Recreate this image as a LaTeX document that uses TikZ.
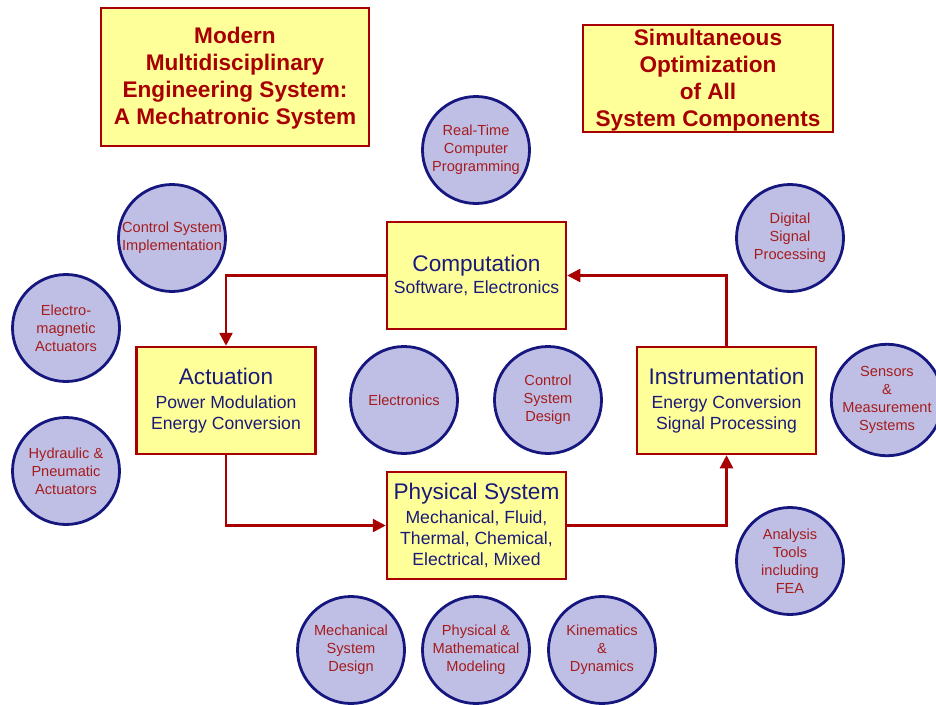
\documentclass[tikz,border=0pt]{standalone}
\usepackage{fontspec}
\setmainfont{Liberation Sans}
\usetikzlibrary{arrows.meta}
\definecolor{boxfill}{HTML}{FFFF99}
\definecolor{boxline}{HTML}{A80000}
\definecolor{circfill}{HTML}{BFBFE6}
\definecolor{circline}{HTML}{16167F}
\definecolor{circtext}{HTML}{A51C1C}
\definecolor{boxtext}{HTML}{1A1A7A}
\tikzset{
  titlebox/.style={draw=boxline, line width=2.5pt, fill=boxfill, inner sep=0pt,
    text=boxline, align=center, font=\fontsize{22.6}{27}\selectfont\bfseries},
  mainbox/.style={draw=boxline, line width=2.5pt, fill=boxfill, inner sep=0pt,
    minimum width=179pt, minimum height=107pt,
    text=boxtext, align=center, font=\fontsize{17.6}{21}\selectfont},
  topic/.style={circle, draw=circline, line width=2.8pt, fill=circfill, inner sep=0pt,
    minimum size=107pt, text=circtext, align=center, font=\fontsize{14.6}{18}\selectfont},
  flow/.style={draw=boxline, line width=2.5pt, -{Triangle[length=13pt,width=13pt]}}
}
\newcommand{\bigline}[1]{{\fontsize{22.6}{23}\selectfont #1}}
\begin{document}
\begin{tikzpicture}[x=1pt,y=-1pt]
\path[use as bounding box, fill=white] (0,0) rectangle (936,704);

% title boxes
\node[titlebox, minimum width=268pt, minimum height=138pt] (t1) at (235,77)
  {\rule{0pt}{19pt}Modern\\Multidisciplinary\\Engineering System:\\A Mechatronic System};
\node[titlebox, minimum width=250pt, minimum height=107pt] (t2) at (708,78.5)
  {\rule{0pt}{20pt}Simultaneous\\Optimization\\of All\\System Components};

% main boxes
\node[mainbox] (comp) at (476.5,275.5) {\bigline{Computation}\\[1pt]Software, Electronics};
\node[mainbox] (act) at (226,400.5) {\bigline{Actuation}\\[3pt]Power Modulation\\Energy Conversion};
\node[mainbox] (inst) at (726.5,400.5) {\bigline{Instrumentation}\\[3pt]Energy Conversion\\Signal Processing};
\node[mainbox] (phys) at (476.5,525.5) {\bigline{Physical System}\\[3pt]Mechanical, Fluid,\\Thermal, Chemical,\\Electrical, Mixed};

% connectors
\draw[flow] (comp.west) -| (act.north);
\draw[flow] (act.south) |- (phys.west);
\draw[flow] (phys.east) -| (inst.south);
\draw[flow] (inst.north) |- (comp.east);

% circles
\node[topic] (rtc) at (476,150) {Real-Time\\Computer\\Programming};
\node[topic] (csi) at (172,238) {Control System\\Implementation};
\node[topic] (dsp) at (790,238) {Digital\\Signal\\Processing};
\node[topic] (ema) at (66,328) {Electro-\\magnetic\\Actuators};
\node[topic] (hpa) at (66,471) {Hydraulic \&\\Pneumatic\\Actuators};
\node[topic] (ele) at (404,400) {Electronics};
\node[topic] (csd) at (548,400) {Control\\System\\Design};
\node[topic] (sms) at (887,400) {Sensors\\\&\\Measurement\\Systems};
\node[topic] (ate) at (790,561) {Analysis\\Tools\\including\\FEA};
\node[topic] (msd) at (351,650) {Mechanical\\System\\Design};
\node[topic] (pmm) at (476,650) {Physical \&\\Mathematical\\Modeling};
\node[topic] (kad) at (602,650) {Kinematics\\\&\\Dynamics};
\end{tikzpicture}
\end{document}
